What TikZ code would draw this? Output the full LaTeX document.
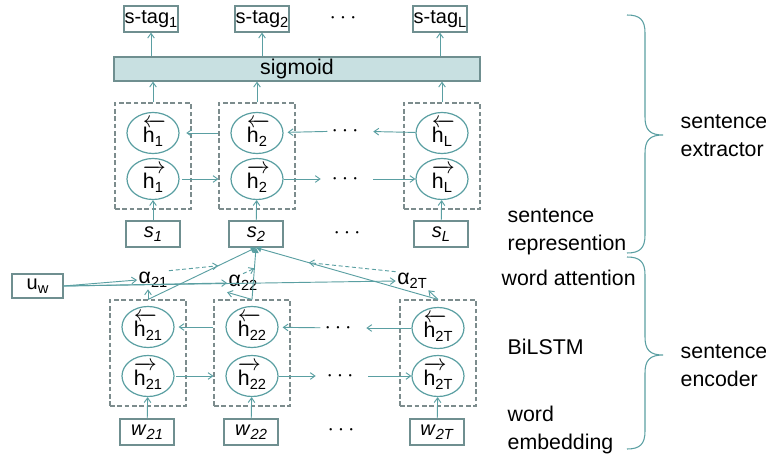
\documentclass[tikz,border=0pt]{standalone}
\usepackage{amsmath}
\usepackage{fontspec}
\setmainfont{Liberation Sans}
\usetikzlibrary{arrows.meta, shapes.geometric}
\definecolor{tealline}{HTML}{5A9FA2}
\definecolor{boxgray}{HTML}{6F8F90}
\definecolor{dashgray}{HTML}{7C8C8D}
\definecolor{sigfill}{HTML}{C8E0E1}
\newcommand{\sbs}[1]{\raisebox{-0.35ex}{\fontsize{11}{12}\selectfont #1}}
\newcommand{\hbw}[1]{\rlap{$\overleftarrow{\phantom{\text{h}}}$}h\sbs{#1}}
\newcommand{\hfw}[1]{\rlap{$\overrightarrow{\phantom{\text{h}}}$}h\sbs{#1}}

\begin{document}
\begin{tikzpicture}[x=0.75pt, y=-0.75pt, >={Straight Barb[length=3.5pt,width=5pt]},
  every node/.style={font=\fontsize{15}{18}\selectfont},
  tagbox/.style={draw=boxgray, line width=0.9pt, minimum width=40.5pt, minimum height=19.5pt, inner sep=0pt},
  hcell/.style={ellipse, draw=tealline, line width=0.9pt, minimum width=39pt, minimum height=30.75pt, inner sep=0pt,
    font=\fontsize{16}{18}\selectfont},
  cellbox/.style={draw=dashgray, line width=0.8pt, dash pattern=on 3.5pt off 2pt, minimum width=57pt, minimum height=79.5pt, inner sep=0pt},
  flow/.style={->, draw=tealline, line width=0.7pt},
  wflow/.style={flow, dash pattern=on 3pt off 2pt},
  sumflow/.style={-{Triangle[length=4pt,width=4.5pt]}, draw=tealline, line width=0.7pt},
  etc/.style={inner sep=0pt, font=\fontsize{17}{18}\bfseries},
  lbl/.style={anchor=west, align=left, font=\fontsize{16}{21}\selectfont}]
  \useasboundingbox (0,0) rectangle (766,453);

  % sentence extractor
  \node[tagbox] (tag1) at (151,19) {s-tag\sbs{1}};
  \node[tagbox] (tag2) at (262,19) {s-tag\sbs{2}};
  \node[tagbox] (tagL) at (440,19) {s-tag\sbs{L}};
  \node[etc] (dt) at (345,18) {$\cdots$};
  \node[draw=boxgray, fill=sigfill, line width=0.9pt, minimum width=274.5pt, minimum height=18pt,
        inner sep=0pt, font=\fontsize{16}{18}\selectfont] (sig) at (297,69) {sigmoid};

  \node[cellbox] (fr1) at (153,156) {};
  \node[cellbox] (fr2) at (257,156) {};
  \node[cellbox] (frL) at (442,156) {};
  \node[hcell] (b1) at (153,133) {\hbw{1}};
  \node[hcell] (b2) at (257,133) {\hbw{2}};
  \node[hcell] (bL) at (442,133) {\hbw{L}};
  \node[hcell] (f1) at (153,179) {\hfw{1}};
  \node[hcell] (f2) at (257,179) {\hfw{2}};
  \node[hcell] (fL) at (442,179) {\hfw{L}};
  \node[etc] (db) at (347,131) {$\cdots$};
  \node[etc] (df) at (347,179) {$\cdots$};

  \node[tagbox] (s1) at (153,234) {\textit{s}\sbs{\textit{1}}};
  \node[tagbox] (s2) at (256,234) {\textit{s}\sbs{\textit{2}}};
  \node[tagbox] (sL) at (441,234) {\textit{s}\sbs{\textit{L}}};
  \node[etc] (ds) at (349,233) {$\cdots$};

  \draw[flow] (fr1.north) -- (fr1.north |- sig.south);
  \draw[flow] (fr2.north) -- (fr2.north |- sig.south);
  \draw[flow] (frL.north) -- (frL.north |- sig.south);
  \draw[flow] (sig.north -| tag1) -- (tag1.south);
  \draw[flow] (sig.north -| tag2) -- (tag2.south);
  \draw[flow] (sig.north -| tagL) -- (tagL.south);
  \draw[flow] (s1) -- (f1);
  \draw[flow] (s2) -- (f2);
  \draw[flow] (sL) -- (fL);
  \draw[flow, shorten >=5pt] (fr2.west |- b1) -- (b1);
  \draw[flow, shorten >=3pt, shorten <=3pt] (db) -- (b2);
  \draw[flow, shorten >=8pt] (bL) -- (db);
  \draw[flow, shorten <=2pt] (f1) -- (fr2.west |- f1);
  \draw[flow, shorten >=8pt] (f2) -- (df);
  \draw[flow, shorten <=8pt] (df) -- (fL);

  % sentence encoder
  \node[cellbox] (gr1) at (148,353) {};
  \node[cellbox] (gr2) at (252,353) {};
  \node[cellbox] (grT) at (438,353) {};
  \node[hcell] (b21) at (148,327) {\hbw{21}};
  \node[hcell] (b22) at (252,327) {\hbw{22}};
  \node[hcell] (b2T) at (438,328) {\hbw{2T}};
  \node[hcell] (f21) at (148,376) {\hfw{21}};
  \node[hcell] (f22) at (252,376) {\hfw{22}};
  \node[hcell] (f2T) at (438,376) {\hfw{2T}};
  \node[etc] (db2) at (340,328) {$\cdots$};
  \node[etc] (df2) at (342,376) {$\cdots$};

  \node[tagbox] (w21) at (147,432) {\textit{w}\sbs{\textit{21}}};
  \node[tagbox] (w22) at (251,432) {\textit{w}\sbs{\textit{22}}};
  \node[tagbox] (w2T) at (437,432) {\textit{w}\sbs{\textit{2T}}};
  \node[etc] (dw) at (343,430) {$\cdots$};

  \draw[flow] (w21) -- (f21);
  \draw[flow] (w22) -- (f22);
  \draw[flow] (w2T) -- (f2T);
  \draw[flow, shorten >=3pt] (gr2.west |- b21) -- (b21);
  \draw[flow, shorten >=3pt, shorten <=3pt] (db2) -- (b22);
  \draw[flow, shorten >=8pt] (b2T) -- (db2);
  \draw[flow, shorten <=1pt] (f21) -- (gr2.west |- f21);
  \draw[flow, shorten >=8pt] (f22) -- (df2);
  \draw[flow, shorten <=8pt] (df2) -- (f2T);

  % word attention
  \node[tagbox, minimum width=38.25pt, minimum height=18pt] (u) at (37.5,286) {u\sbs{w}};
  \node[inner sep=1pt, font=\fontsize{16}{18}\selectfont] (a21) at (153,280) {α\sbs{21}};
  \node[inner sep=1pt, font=\fontsize{16}{18}\selectfont] (a22) at (243,283) {α\sbs{22}};
  \node[inner sep=1pt, font=\fontsize{16}{18}\selectfont] (a2T) at (412,281) {α\sbs{2T}};

  \draw[flow] (u.east) -- (a21.west);
  \draw[flow] (u.east) -- (a22.west);
  \draw[flow] (u.east) -- (a2T.west);
  \draw[flow] (gr1.north) -- (gr1.north |- a21.south);
  \draw[flow] (gr2.north) -- (a22.south west);
  \draw[flow] (grT.north) -- (a2T.south east);
  \draw[sumflow] (gr1.north) -- (s2.south);
  \draw[sumflow] (gr2.north) -- (s2.south);
  \draw[sumflow] (grT.north) -- (s2.south);
  \path (gr1.north) -- (s2.south) coordinate[pos=0.65] (m21);
  \path (gr2.north) -- (s2.south) coordinate[pos=0.6] (m22);
  \path (grT.north) -- (s2.south) coordinate[pos=0.71] (m2T);
  \draw[wflow] (a21.north east) -- (m21);
  \draw[wflow] (a22.north) -- (m22);
  \draw[wflow] (a2T.north west) -- (m2T);

  % labels and braces
  \node[lbl] (rep) at (503,232) {sentence\\represention};
  \node[lbl] (att) at (497,278) {word attention};
  \node[lbl] (bil) at (503,347) {BiLSTM};
  \node[lbl] (emb) at (503,430) {word\\embedding};
  \node[lbl] (ext) at (676,136) {sentence\\extractor};
  \node[lbl] (enc) at (676,366) {sentence\\encoder};
  \draw[tealline, line width=0.8pt] (627,15) .. controls (640,15) and (645,20) .. (645,33) -- (645,117)
    .. controls (645,130) and (650,135) .. (663,135) .. controls (650,135) and (645,140) .. (645,153)
    -- (645,235) .. controls (645,248) and (640,253) .. (627,253);
  \draw[tealline, line width=0.8pt] (627,257) .. controls (640,257) and (645,262) .. (645,275) -- (645,337)
    .. controls (645,350) and (650,355) .. (663,355) .. controls (650,355) and (645,360) .. (645,373)
    -- (645,431) .. controls (645,444) and (640,449) .. (627,449);
\end{tikzpicture}
\end{document}
